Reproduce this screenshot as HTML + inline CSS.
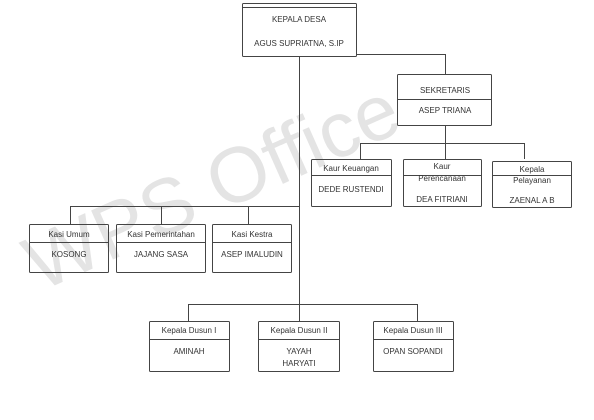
<!DOCTYPE html>
<html><head><style>
html,body{margin:0;padding:0;background:#fff;}
svg{display:block;}
text{font-family:"Liberation Sans",sans-serif;fill:#333;font-size:8px;text-anchor:middle;}
</style></head><body>
<svg width="594" height="420" viewBox="0 0 594 420" xmlns="http://www.w3.org/2000/svg">
<text x="40" y="292" transform="rotate(-24 40 292)" textLength="400" style="font-size:78px;fill:#e4e4e4;text-anchor:start;">WPS Office</text>
<g stroke="#444" stroke-width="1" fill="none">
<!-- top -->
<rect x="242.5" y="3.5" width="114" height="53" rx="1"/>
<line x1="242" y1="7.5" x2="357" y2="7.5"/>
<line x1="299.5" y1="56" x2="299.5" y2="305"/>
<polyline points="356,54.5 445.5,54.5 445.5,74"/>
<!-- sekretaris -->
<rect x="397.5" y="74.5" width="94" height="51" rx="1"/>
<line x1="397" y1="99.5" x2="492" y2="99.5"/>
<line x1="445.5" y1="125" x2="445.5" y2="143.5"/>
<polyline points="360.5,159 360.5,143.5 524.5,143.5 524.5,159"/>
<line x1="445.5" y1="143" x2="445.5" y2="159"/>
<rect x="311.5" y="159.5" width="80" height="47" rx="1"/>
<line x1="311" y1="175.5" x2="392" y2="175.5"/>
<rect x="403.5" y="159.5" width="78" height="47" rx="1"/>
<line x1="403" y1="175.5" x2="482" y2="175.5"/>
<rect x="492.5" y="161.5" width="79" height="46" rx="1"/>
<line x1="492" y1="175.5" x2="572" y2="175.5"/>
<!-- kasi -->
<polyline points="70.5,224 70.5,206.5 299.5,206.5"/>
<line x1="161.5" y1="206" x2="161.5" y2="224"/>
<line x1="248.5" y1="206" x2="248.5" y2="224"/>
<rect x="29.5" y="224.5" width="79" height="48" rx="1"/>
<line x1="29" y1="242.5" x2="109" y2="242.5"/>
<rect x="116.5" y="224.5" width="89" height="48" rx="1"/>
<line x1="116" y1="242.5" x2="206" y2="242.5"/>
<rect x="212.5" y="224.5" width="79" height="48" rx="1"/>
<line x1="212" y1="242.5" x2="292" y2="242.5"/>
<!-- dusun -->
<polyline points="188.5,321 188.5,304.5 417.5,304.5 417.5,321"/>
<line x1="299.5" y1="304" x2="299.5" y2="321"/>
<rect x="149.5" y="321.5" width="80" height="50" rx="1"/>
<line x1="149" y1="339.5" x2="230" y2="339.5"/>
<rect x="258.5" y="321.5" width="81" height="50" rx="1"/>
<line x1="258" y1="339.5" x2="340" y2="339.5"/>
<rect x="373.5" y="321.5" width="80" height="50" rx="1"/>
<line x1="373" y1="339.5" x2="454" y2="339.5"/>
</g>
<text x="299" y="22">KEPALA DESA</text>
<text x="299" y="46">AGUS SUPRIATNA, S.IP</text>
<text x="445" y="93">SEKRETARIS</text>
<text x="445" y="113">ASEP TRIANA</text>
<text x="351" y="171">Kaur Keuangan</text>
<text x="351" y="192">DEDE RUSTENDI</text>
<text x="442" y="169">Kaur</text>
<text x="442" y="181">Perencanaan</text>
<text x="442" y="202">DEA FITRIANI</text>
<text x="532" y="172">Kepala</text>
<text x="532" y="183">Pelayanan</text>
<text x="532" y="203">ZAENAL A B</text>
<text x="69" y="237">Kasi Umum</text>
<text x="69" y="257">KOSONG</text>
<text x="161" y="237">Kasi Pemerintahan</text>
<text x="161" y="257">JAJANG SASA</text>
<text x="252" y="237">Kasi Kestra</text>
<text x="252" y="257">ASEP IMALUDIN</text>
<text x="189" y="333">Kepala Dusun I</text>
<text x="189" y="354">AMINAH</text>
<text x="299" y="333">Kepala Dusun II</text>
<text x="299" y="354">YAYAH</text>
<text x="299" y="366">HARYATI</text>
<text x="413" y="333">Kepala Dusun III</text>
<text x="413" y="354">OPAN SOPANDI</text>
</svg>
</body></html>
